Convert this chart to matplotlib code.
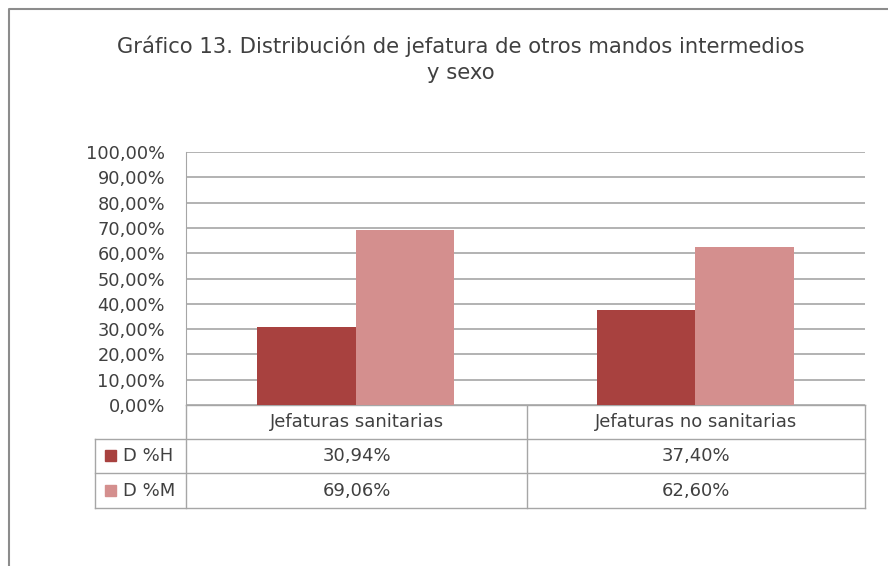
import matplotlib.pyplot as plt
import numpy as np

categories = ['Jefaturas sanitarias', 'Jefaturas no sanitarias']
series = ['D %H', 'D %M']
vals_h = [30.94, 37.40]
vals_m = [69.06, 62.60]
colors = ['#A8413F', '#D48F8E']
yticks = np.arange(0, 101, 10)

plt.rcParams['font.family'] = ['DejaVu Sans']
txt = '#404040'
grid = '#A6A6A6'

W, H = 888, 566
fig = plt.figure(figsize=(W / 100, H / 100), dpi=100)

def px(x0, y0, x1, y1):
    return [x0 / W, 1 - y1 / H, (x1 - x0) / W, (y1 - y0) / H]

# outer chart frame
frame = fig.add_axes([0, 0, 1, 1])
frame.set_xlim(0, W)
frame.set_ylim(H, 0)
frame.axis('off')
frame.plot([9, 9, W + 5], [H + 5, 9, 9], color='#8C8C8C', lw=1.5)

fig.text(461 / W, 1 - 46 / H, 'Gráfico 13. Distribución de jefatura de otros mandos intermedios',
         ha='center', va='center', fontsize=15.2, color=txt)
fig.text(461 / W, 1 - 73 / H, 'y sexo', ha='center', va='center', fontsize=15.2, color=txt)

# bar plot area
ax = fig.add_axes(px(186, 152, 865, 405))
x = np.arange(len(categories))
w = 0.29
ax.bar(x - w / 2, vals_h, w, color=colors[0], zorder=3)
ax.bar(x + w / 2, vals_m, w, color=colors[1], zorder=3)
ax.set_xlim(-0.5, len(categories) - 0.5)
ax.set_ylim(0, 100)
ax.set_yticks(yticks)
ax.set_yticklabels([f'{v:.2f}'.replace('.', ',') + '%' for v in yticks], fontsize=12.8, color=txt)
ax.tick_params(axis='y', length=0, pad=15)
ax.set_xticks([])
ax.grid(axis='y', color=grid, lw=1.2, zorder=0)
for s in ['top', 'right', 'bottom']:
    ax.spines[s].set_visible(False)
ax.spines['left'].set_color(grid)

# data table below
tb = fig.add_axes([0, 0, 1, 1], zorder=-1)
tb.set_xlim(0, W)
tb.set_ylim(H, 0)
tb.axis('off')
lc = dict(color=grid, lw=1)
col_x = [186, 527, 865]
row_y = [405, 439, 473, 508]
for cx in col_x:
    tb.plot([cx, cx], [row_y[0], row_y[-1]], **lc)
tb.plot([95, 95], [row_y[1], row_y[-1]], **lc)
tb.plot([186, 865], [row_y[0], row_y[0]], **lc)
for ry in row_y[1:]:
    tb.plot([95, 865], [ry, ry], **lc)

fs = 13
for i, cat in enumerate(categories):
    cx = (col_x[i] + col_x[i + 1]) / 2
    tb.text(cx, (row_y[0] + row_y[1]) / 2, cat, ha='center', va='center', fontsize=fs, color=txt)
    for j, vals in enumerate([vals_h, vals_m]):
        tb.text(cx, (row_y[j + 1] + row_y[j + 2]) / 2, f'{vals[i]:.2f}'.replace('.', ',') + '%',
                ha='center', va='center', fontsize=fs, color=txt)

for j, name in enumerate(series):
    yc = (row_y[j + 1] + row_y[j + 2]) / 2
    tb.add_patch(plt.Rectangle((105, yc - 6), 11, 11, color=colors[j]))
    tb.text(123, yc, name, ha='left', va='center', fontsize=fs, color=txt)

fig.savefig('out.png', dpi=100)
